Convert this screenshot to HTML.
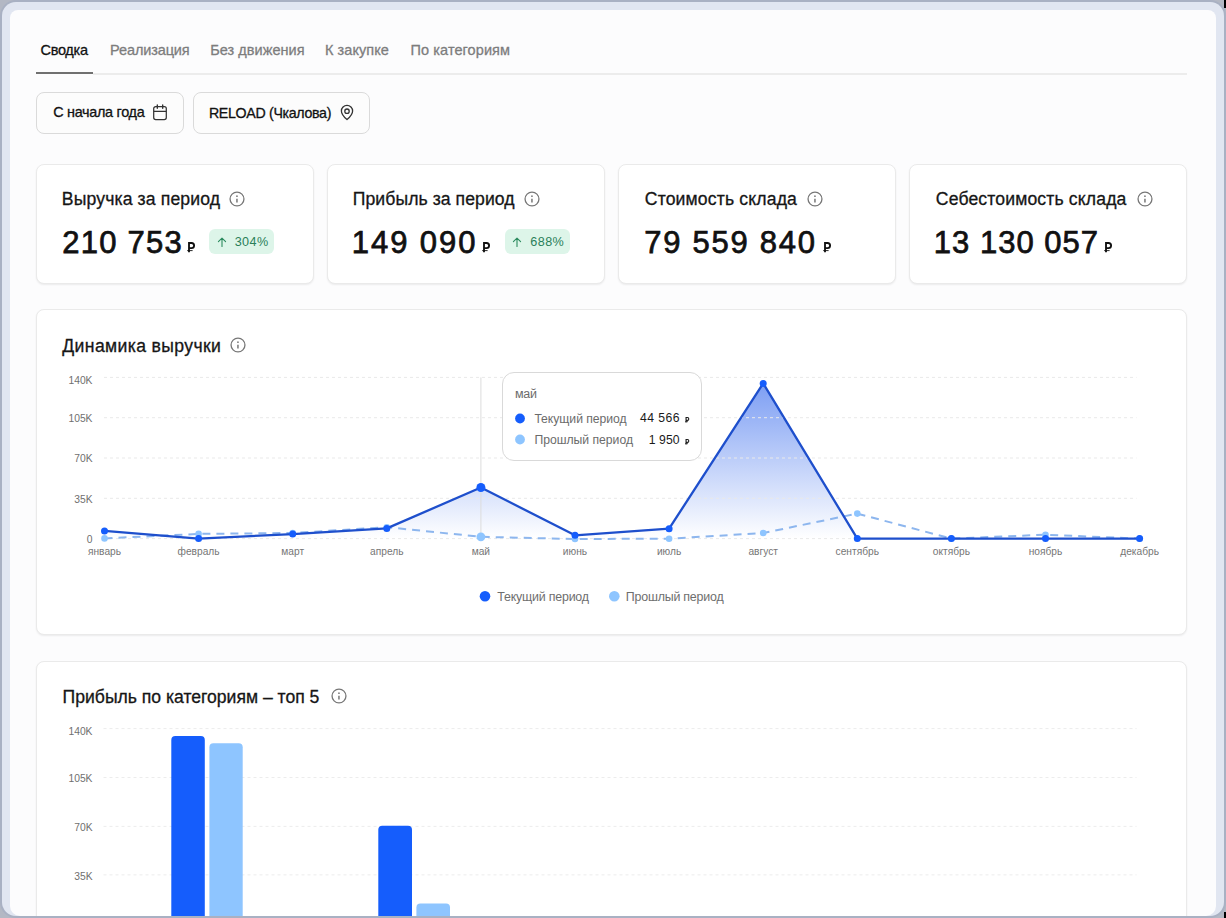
<!DOCTYPE html>
<html><head><meta charset="utf-8"><title>Сводка</title>
<style>
html,body{margin:0;padding:0;}
body{width:1226px;height:918px;overflow:hidden;position:relative;background:#b3b8c4;font-family:"Liberation Sans", sans-serif;}
.frame{position:absolute;left:0;top:0;width:1226px;height:918px;border-radius:16px;background:#a9b1c3;overflow:hidden;}
.band{position:absolute;left:2px;top:2px;width:1222px;height:914px;border-radius:14px;background:#e1e6f1;}
.panel{position:absolute;left:10px;top:10px;width:1206px;height:906px;border-radius:8px 8px 10px 10px;background:#fcfcfd;overflow:hidden;}
.layer{position:absolute;left:-10px;top:-10px;width:1226px;height:918px;}
.t{position:absolute;white-space:pre;line-height:1;}
.md{-webkit-text-stroke:0.3px currentColor;}
.sb{-webkit-text-stroke:0.75px currentColor;}
.ic{position:absolute;overflow:visible;}
.card{position:absolute;box-sizing:border-box;background:#fff;border:1px solid #eaeaea;border-radius:8px;box-shadow:0 1px 2px rgba(0,0,0,0.07);}
.btn{position:absolute;box-sizing:border-box;background:#fcfcfc;border:1px solid #dadada;border-radius:8px;}
.badge{position:absolute;background:#ddf5e9;border-radius:6px;}
.tip{position:absolute;box-sizing:border-box;background:#fff;border:1px solid #d9d9d9;border-radius:12px;}
.sep{position:absolute;left:93px;top:73px;width:1094px;height:1.6px;background:#ececec;}
.uline{position:absolute;left:35.7px;top:72px;width:57.3px;height:2.1px;background:#707070;}
svg.charts{position:absolute;left:0;top:0;width:1226px;height:918px;font-family:"Liberation Sans", sans-serif;}
</style></head>
<body>
<div class="frame"><div class="band"></div>
<div class="panel"><div class="layer">
<span class="t md" style="left:40.50px;top:43.43px;font-size:14.5px;color:#111;letter-spacing:-0.296px;">Сводка</span><span class="t md" style="left:110.10px;top:43.43px;font-size:14.5px;color:#7d7d7d;letter-spacing:-0.127px;">Реализация</span><span class="t md" style="left:210.30px;top:43.43px;font-size:14.5px;color:#7d7d7d;letter-spacing:0.030px;">Без движения</span><span class="t md" style="left:325.00px;top:43.43px;font-size:14.5px;color:#7d7d7d;letter-spacing:0.062px;">К закупке</span><span class="t md" style="left:410.60px;top:43.43px;font-size:14.5px;color:#7d7d7d;letter-spacing:0.074px;">По категориям</span><div class="sep"></div><div class="uline"></div>
<div class="btn" style="left:36px;top:91.5px;width:147.5px;height:42px"></div>
<div class="btn" style="left:192.5px;top:91.5px;width:177.5px;height:42px"></div>
<span class="t md" style="left:53.20px;top:105.41px;font-size:14.4px;color:#111;letter-spacing:-0.287px;">С начала года</span><span class="t md" style="left:208.90px;top:105.58px;font-size:14.2px;color:#111;letter-spacing:-0.311px;">RELOAD (Чкалова)</span><svg class="ic" style="left:152px;top:104px;width:16px;height:17px" viewBox="0 0 16 17"><rect x="1.7" y="2.6" width="12.6" height="12.9" rx="2" fill="none" stroke="#333" stroke-width="1.25"/><path d="M1.7 7.3H14.3" stroke="#333" stroke-width="1.25"/><path d="M5.3 1V4.2M10.7 1V4.2" stroke="#333" stroke-width="1.35" stroke-linecap="round"/></svg>
<svg class="ic" style="left:339px;top:104px;width:16px;height:17px" viewBox="0 0 16 17"><path d="M8 15.6C8 15.6 2.4 10.6 2.4 6.9A5.6 5.6 0 0 1 13.6 6.9C13.6 10.6 8 15.6 8 15.6Z" fill="none" stroke="#333" stroke-width="1.3" stroke-linejoin="round"/><circle cx="8" cy="7.2" r="2.2" fill="none" stroke="#333" stroke-width="1.3"/></svg>
<div class="card" style="left:36px;top:164px;width:278px;height:120px"></div>
<div class="card" style="left:326.9px;top:164px;width:278px;height:120px"></div>
<div class="card" style="left:617.8px;top:164px;width:278px;height:120px"></div>
<div class="card" style="left:908.7px;top:164px;width:278px;height:120px"></div>
<span class="t md" style="left:61.80px;top:191.20px;font-size:17.6px;color:#161616;letter-spacing:0.141px;">Выручка за период</span><svg class="ic" style="left:228.8px;top:191.3px;width:16px;height:16px" viewBox="0 0 16 16"><circle cx="8" cy="8" r="6.95" fill="none" stroke="#777" stroke-width="1.3"/><circle cx="7.95" cy="5.2" r="0.85" fill="#777"/><path d="M7.95 7.7V11.6" stroke="#777" stroke-width="1.5"/></svg>
<span class="t sb" style="left:62.20px;top:226.76px;font-size:31px;color:#111;letter-spacing:1.264px;">210 753</span><svg class="ic" style="left:187.0px;top:242.3px;width:9px;height:10.3px" viewBox="0 0 9 10.3" preserveAspectRatio="none"><path d="M2 0.1V10.3M1.1 1H4.5A2.6 2.6 0 0 1 4.5 6.2H1.1" fill="none" stroke="#111" stroke-width="1.85"/><path d="M0.2 8.6H5.6" stroke="#111" stroke-width="0.9"/></svg>
<div class="badge" style="left:209px;top:229.3px;width:64.5px;height:24.6px"></div>
<svg class="ic" style="left:216.5px;top:236.5px;width:10px;height:10px" viewBox="0 0 10 10"><path d="M5 9.5V1.2M1.4 4.6L5 1.1L8.6 4.6" fill="none" stroke="#2b8a5e" stroke-width="1.1" stroke-linecap="round" stroke-linejoin="round"/></svg>
<span class="t" style="left:234.70px;top:235.93px;font-size:12.6px;color:#2a8059;letter-spacing:0.429px;">304%</span><span class="t md" style="left:352.80px;top:191.20px;font-size:17.6px;color:#161616;letter-spacing:0.071px;">Прибыль за период</span><svg class="ic" style="left:524.0px;top:191.3px;width:16px;height:16px" viewBox="0 0 16 16"><circle cx="8" cy="8" r="6.95" fill="none" stroke="#777" stroke-width="1.3"/><circle cx="7.95" cy="5.2" r="0.85" fill="#777"/><path d="M7.95 7.7V11.6" stroke="#777" stroke-width="1.5"/></svg>
<span class="t sb" style="left:351.80px;top:226.76px;font-size:31px;color:#111;letter-spacing:1.931px;">149 090</span><svg class="ic" style="left:482.0px;top:242.3px;width:9px;height:10.3px" viewBox="0 0 9 10.3" preserveAspectRatio="none"><path d="M2 0.1V10.3M1.1 1H4.5A2.6 2.6 0 0 1 4.5 6.2H1.1" fill="none" stroke="#111" stroke-width="1.85"/><path d="M0.2 8.6H5.6" stroke="#111" stroke-width="0.9"/></svg>
<div class="badge" style="left:504.6px;top:229.3px;width:65.1px;height:24.6px"></div>
<svg class="ic" style="left:512.1px;top:236.5px;width:10px;height:10px" viewBox="0 0 10 10"><path d="M5 9.5V1.2M1.4 4.6L5 1.1L8.6 4.6" fill="none" stroke="#2b8a5e" stroke-width="1.1" stroke-linecap="round" stroke-linejoin="round"/></svg>
<span class="t" style="left:530.30px;top:235.93px;font-size:12.6px;color:#2a8059;letter-spacing:0.429px;">688%</span><span class="t md" style="left:644.80px;top:191.20px;font-size:17.6px;color:#161616;letter-spacing:0.155px;">Стоимость склада</span><svg class="ic" style="left:806.5px;top:191.3px;width:16px;height:16px" viewBox="0 0 16 16"><circle cx="8" cy="8" r="6.95" fill="none" stroke="#777" stroke-width="1.3"/><circle cx="7.95" cy="5.2" r="0.85" fill="#777"/><path d="M7.95 7.7V11.6" stroke="#777" stroke-width="1.5"/></svg>
<span class="t sb" style="left:644.20px;top:226.76px;font-size:31px;color:#111;letter-spacing:1.732px;">79 559 840</span><svg class="ic" style="left:823.0px;top:242.3px;width:9px;height:10.3px" viewBox="0 0 9 10.3" preserveAspectRatio="none"><path d="M2 0.1V10.3M1.1 1H4.5A2.6 2.6 0 0 1 4.5 6.2H1.1" fill="none" stroke="#111" stroke-width="1.85"/><path d="M0.2 8.6H5.6" stroke="#111" stroke-width="0.9"/></svg>
<span class="t md" style="left:935.80px;top:191.20px;font-size:17.6px;color:#161616;letter-spacing:0.146px;">Себестоимость склада</span><svg class="ic" style="left:1136.7px;top:191.3px;width:16px;height:16px" viewBox="0 0 16 16"><circle cx="8" cy="8" r="6.95" fill="none" stroke="#777" stroke-width="1.3"/><circle cx="7.95" cy="5.2" r="0.85" fill="#777"/><path d="M7.95 7.7V11.6" stroke="#777" stroke-width="1.5"/></svg>
<span class="t sb" style="left:933.80px;top:226.76px;font-size:31px;color:#111;letter-spacing:1.010px;">13 130 057</span><svg class="ic" style="left:1104.0px;top:242.3px;width:9px;height:10.3px" viewBox="0 0 9 10.3" preserveAspectRatio="none"><path d="M2 0.1V10.3M1.1 1H4.5A2.6 2.6 0 0 1 4.5 6.2H1.1" fill="none" stroke="#111" stroke-width="1.85"/><path d="M0.2 8.6H5.6" stroke="#111" stroke-width="0.9"/></svg>
<div class="card" style="left:36px;top:309px;width:1151px;height:326px"></div>
<span class="t md" style="left:62.30px;top:338.30px;font-size:17.6px;color:#161616;letter-spacing:0.376px;">Динамика выручки</span><svg class="ic" style="left:229.7px;top:337.0px;width:16px;height:16px" viewBox="0 0 16 16"><circle cx="8" cy="8" r="6.95" fill="none" stroke="#777" stroke-width="1.3"/><circle cx="7.95" cy="5.2" r="0.85" fill="#777"/><path d="M7.95 7.7V11.6" stroke="#777" stroke-width="1.5"/></svg>
<div class="card" style="left:36px;top:661px;width:1151px;height:300px"></div>
<span class="t md" style="left:62.60px;top:689.40px;font-size:17.6px;color:#161616;letter-spacing:-0.011px;">Прибыль по категориям – топ 5</span><svg class="ic" style="left:330.8px;top:688.4px;width:16px;height:16px" viewBox="0 0 16 16"><circle cx="8" cy="8" r="6.95" fill="none" stroke="#777" stroke-width="1.3"/><circle cx="7.95" cy="5.2" r="0.85" fill="#777"/><path d="M7.95 7.7V11.6" stroke="#777" stroke-width="1.5"/></svg>

<svg class="charts" viewBox="0 0 1226 918">
<text x="92.5" y="383.6" text-anchor="end" font-size="10.3" fill="#6f6f6f">140K</text>
<text x="92.5" y="421.6" text-anchor="end" font-size="10.3" fill="#6f6f6f">105K</text>
<text x="92.5" y="461.7" text-anchor="end" font-size="10.3" fill="#6f6f6f">70K</text>
<text x="92.5" y="502.5" text-anchor="end" font-size="10.3" fill="#6f6f6f">35K</text>
<text x="92.5" y="542.8" text-anchor="end" font-size="10.3" fill="#6f6f6f">0</text>
<text x="104.5" y="554.8" text-anchor="middle" font-size="10.2" fill="#767676">январь</text>
<text x="198.6" y="554.8" text-anchor="middle" font-size="10.2" fill="#767676">февраль</text>
<text x="292.7" y="554.8" text-anchor="middle" font-size="10.2" fill="#767676">март</text>
<text x="386.8" y="554.8" text-anchor="middle" font-size="10.2" fill="#767676">апрель</text>
<text x="480.9" y="554.8" text-anchor="middle" font-size="10.2" fill="#767676">май</text>
<text x="575.0" y="554.8" text-anchor="middle" font-size="10.2" fill="#767676">июнь</text>
<text x="669.1" y="554.8" text-anchor="middle" font-size="10.2" fill="#767676">июль</text>
<text x="763.2" y="554.8" text-anchor="middle" font-size="10.2" fill="#767676">август</text>
<text x="857.3" y="554.8" text-anchor="middle" font-size="10.2" fill="#767676">сентябрь</text>
<text x="951.4" y="554.8" text-anchor="middle" font-size="10.2" fill="#767676">октябрь</text>
<text x="1045.5" y="554.8" text-anchor="middle" font-size="10.2" fill="#767676">ноябрь</text>
<text x="1139.6" y="554.8" text-anchor="middle" font-size="10.2" fill="#767676">декабрь</text>
<defs><linearGradient id="ag" x1="0" y1="0" x2="0" y2="1"><stop offset="0" stop-color="#2d63ec" stop-opacity="0.62"/><stop offset="1" stop-color="#2d63ec" stop-opacity="0"/></linearGradient></defs>
<path d="M104.5,538.6 L104.5,530.9 L198.6,538.6 L292.7,534.1 L386.8,528.4 L480.9,487.5 L575.0,535.3 L669.1,528.7 L763.2,383.4 L857.3,538.6 L951.4,538.6 L1045.5,538.6 L1139.6,538.6 L1139.6,538.6Z" fill="url(#ag)"/>
<path d="M104 377.4H1136.5" stroke="#e9e9e9" stroke-width="1" stroke-dasharray="3 3"/>
<path d="M104 417.7H1136.5" stroke="#e9e9e9" stroke-width="1" stroke-dasharray="3 3"/>
<path d="M104 458.0H1136.5" stroke="#e9e9e9" stroke-width="1" stroke-dasharray="3 3"/>
<path d="M104 498.3H1136.5" stroke="#e9e9e9" stroke-width="1" stroke-dasharray="3 3"/>
<path d="M104 538.6H1136.5" stroke="#e9e9e9" stroke-width="1" stroke-dasharray="3 3"/>
<path d="M480.9 377.4V538.6" stroke="#dcdcdc" stroke-width="1"/>
<polyline points="104.5,538.4 198.6,533.9 292.7,533.0 386.8,527.2 480.9,536.8 575.0,539.0 669.1,538.7 763.2,533.0 857.3,513.6 951.4,538.6 1045.5,534.7 1139.6,538.6" fill="none" stroke="#8db6ee" stroke-width="2" stroke-dasharray="8 6"/>
<circle cx="104.5" cy="538.4" r="3.3" fill="#8ec5ff"/>
<circle cx="198.6" cy="533.9" r="3.3" fill="#8ec5ff"/>
<circle cx="292.7" cy="533.0" r="3.3" fill="#8ec5ff"/>
<circle cx="386.8" cy="527.2" r="3.3" fill="#8ec5ff"/>
<circle cx="480.9" cy="536.8" r="4.4" fill="#8ec5ff"/>
<circle cx="575.0" cy="539.0" r="3.3" fill="#8ec5ff"/>
<circle cx="669.1" cy="538.7" r="3.3" fill="#8ec5ff"/>
<circle cx="763.2" cy="533.0" r="3.3" fill="#8ec5ff"/>
<circle cx="857.3" cy="513.6" r="3.3" fill="#8ec5ff"/>
<circle cx="951.4" cy="538.6" r="3.3" fill="#8ec5ff"/>
<circle cx="1045.5" cy="534.7" r="3.3" fill="#8ec5ff"/>
<circle cx="1139.6" cy="538.6" r="3.3" fill="#8ec5ff"/>
<polyline points="104.5,530.9 198.6,538.6 292.7,534.1 386.8,528.4 480.9,487.5 575.0,535.3 669.1,528.7 763.2,383.4 857.3,538.6 951.4,538.6 1045.5,538.6 1139.6,538.6" fill="none" stroke="#1e4fcc" stroke-width="2.3" stroke-linejoin="round"/>
<circle cx="104.5" cy="530.9" r="3.5" fill="#155dfc"/>
<circle cx="198.6" cy="538.6" r="3.5" fill="#155dfc"/>
<circle cx="292.7" cy="534.1" r="3.5" fill="#155dfc"/>
<circle cx="386.8" cy="528.4" r="3.5" fill="#155dfc"/>
<circle cx="480.9" cy="487.5" r="4.5" fill="#155dfc"/>
<circle cx="575.0" cy="535.3" r="3.5" fill="#155dfc"/>
<circle cx="669.1" cy="528.7" r="3.5" fill="#155dfc"/>
<circle cx="763.2" cy="383.4" r="3.5" fill="#155dfc"/>
<circle cx="857.3" cy="538.6" r="3.5" fill="#155dfc"/>
<circle cx="951.4" cy="538.6" r="3.5" fill="#155dfc"/>
<circle cx="1045.5" cy="538.6" r="3.5" fill="#155dfc"/>
<circle cx="1139.6" cy="538.6" r="3.5" fill="#155dfc"/>
<circle cx="485" cy="596.3" r="5.3" fill="#155dfc"/>
<circle cx="614.3" cy="596.3" r="5.3" fill="#8ec5ff"/>
<path d="M103.5 728.6H1136.5" stroke="#ececec" stroke-width="1" stroke-dasharray="3 3"/>
<path d="M103.5 777.5H1136.5" stroke="#ececec" stroke-width="1" stroke-dasharray="3 3"/>
<path d="M103.5 826.4H1136.5" stroke="#ececec" stroke-width="1" stroke-dasharray="3 3"/>
<path d="M103.5 874.9H1136.5" stroke="#ececec" stroke-width="1" stroke-dasharray="3 3"/>
<text x="92.5" y="735.4" text-anchor="end" font-size="10.3" fill="#6f6f6f">140K</text>
<text x="92.5" y="782.4" text-anchor="end" font-size="10.3" fill="#6f6f6f">105K</text>
<text x="92.5" y="830.9" text-anchor="end" font-size="10.3" fill="#6f6f6f">70K</text>
<text x="92.5" y="879.8" text-anchor="end" font-size="10.3" fill="#6f6f6f">35K</text>
<path d="M171.3 930V740.1Q171.3 736.1 175.3 736.1H200.8Q204.8 736.1 204.8 740.1V930Z" fill="#155dfc"/>
<path d="M209.4 930V747.2Q209.4 743.2 213.4 743.2H238.7Q242.7 743.2 242.7 747.2V930Z" fill="#8ec5ff"/>
<path d="M378.3 930V829.7Q378.3 825.7 382.3 825.7H408.0Q412.0 825.7 412.0 829.7V930Z" fill="#155dfc"/>
<path d="M416.4 930V907.5Q416.4 903.5 420.4 903.5H446.0Q450.0 903.5 450.0 907.5V930Z" fill="#8ec5ff"/>
</svg>
<span class="t" style="left:497.30px;top:591.10px;font-size:12.4px;color:#6e6e6e;letter-spacing:-0.195px;">Текущий период</span><span class="t" style="left:625.80px;top:591.10px;font-size:12.4px;color:#6e6e6e;letter-spacing:-0.197px;">Прошлый период</span>
<div class="tip" style="left:502.4px;top:372.4px;width:199.6px;height:88.2px"></div>
<span class="t" style="left:514.90px;top:388.42px;font-size:12.5px;color:#6b6b6b;letter-spacing:-0.223px;">май</span><svg class="ic" style="left:514px;top:413px;width:12px;height:32px" viewBox="0 0 12 32"><circle cx="6" cy="5.5" r="4.9" fill="#155dfc"/><circle cx="6" cy="26.5" r="4.9" fill="#8ec5ff"/></svg>
<span class="t" style="left:534.40px;top:412.77px;font-size:12.2px;color:#6b6b6b;letter-spacing:-0.031px;">Текущий период</span><span class="t" style="left:534.40px;top:434.17px;font-size:12.2px;color:#6b6b6b;letter-spacing:-0.010px;">Прошлый период</span><span class="t" style="left:640.00px;top:412.47px;font-size:12.2px;color:#1a1a1a;letter-spacing:0.460px;">44 566</span><span class="t" style="left:648.80px;top:434.07px;font-size:12.2px;color:#1a1a1a;letter-spacing:0.070px;">1 950</span><svg class="ic" style="left:685.4px;top:417.3px;width:4.8px;height:5.6px" viewBox="0 0 9 10.3" preserveAspectRatio="none"><path d="M2 0.1V10.3M1.1 1H4.5A2.6 2.6 0 0 1 4.5 6.2H1.1" fill="none" stroke="#1a1a1a" stroke-width="2.1"/><path d="M0.2 8.6H5.6" stroke="#1a1a1a" stroke-width="1.4"/></svg>
<svg class="ic" style="left:685.4px;top:438.9px;width:4.8px;height:5.6px" viewBox="0 0 9 10.3" preserveAspectRatio="none"><path d="M2 0.1V10.3M1.1 1H4.5A2.6 2.6 0 0 1 4.5 6.2H1.1" fill="none" stroke="#1a1a1a" stroke-width="2.1"/><path d="M0.2 8.6H5.6" stroke="#1a1a1a" stroke-width="1.4"/></svg>

</div></div></div>
<div style="position:absolute;left:1224px;top:0;width:2px;height:8px;background:#000"></div>
<div style="position:absolute;left:1224px;top:912px;width:2px;height:6px;background:#000"></div>
</body></html>
